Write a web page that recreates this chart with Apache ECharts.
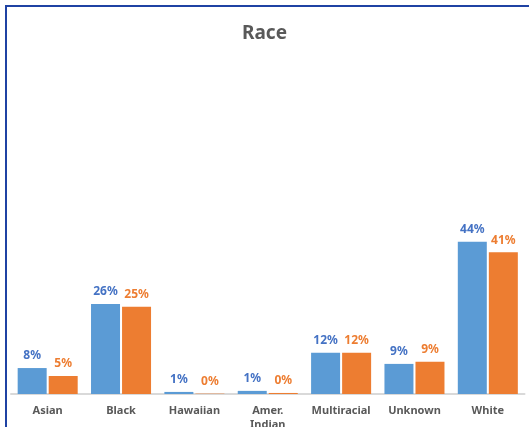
<!DOCTYPE html>
<html>
<head>
<meta charset="utf-8">
<script src="https://cdn.jsdelivr.net/npm/echarts@6/dist/echarts.min.js"></script>
<style>
  html, body { margin: 0; padding: 0; background: #fff; overflow: hidden; }
  #wrap { position: relative; width: 529px; height: 427px; overflow: hidden; }
  #chart { width: 529px; height: 427px; }
  #frame {
    position: absolute; left: 5px; top: 5px; width: 700px; height: 700px;
    border-left: 2.5px solid #1f42a3; border-top: 2.5px solid #1f42a3;
    pointer-events: none;
  }
</style>
</head>
<body>
<div id="wrap">
  <div id="chart"></div>
  <div id="frame"></div>
</div>
<script>
  // categories and the two series (percent)
  var categories = ['Asian', 'Black', 'Hawaiian', 'Amer.\nIndian', 'Multiracial', 'Unknown', 'White'];
  var seriesA = [7.5, 26, 0.6, 0.9, 11.9, 8.7, 44];
  var seriesB = [5.2, 25.2, 0.1, 0.3, 11.9, 9.3, 41];

  var font = '"Noto Sans", "DejaVu Sans", sans-serif';

  function pct(p) {
    return Math.round(p.value) + '%';
  }

  var chart = echarts.init(document.getElementById('chart'));
  chart.setOption({
    animation: false,
    title: {
      text: 'Race',
      left: 'center',
      top: 19,
      textStyle: { color: '#595959', fontSize: 19, fontWeight: 'bold', fontFamily: font }
    },
    grid: { left: 11, right: 4.5, top: 48, bottom: 33, containLabel: false, outerBoundsMode: 'none' },
    xAxis: {
      type: 'category',
      data: categories,
      axisTick: { show: false },
      axisLine: { lineStyle: { color: '#d9d9d9', width: 2 } },
      axisLabel: {
        color: '#595959',
        fontSize: 11,
        fontWeight: 'bold',
        fontFamily: font,
        margin: 10,
        lineHeight: 14,
        interval: 0
      }
    },
    yAxis: {
      type: 'value',
      min: 0,
      max: 100,
      show: false,
      splitLine: { show: false }
    },
    series: [{
      type: 'bar',
      data: seriesA,
      barWidth: 29,
      barGap: '7%',
      itemStyle: { color: '#5b9bd5' },
      label: {
        show: true,
        position: 'top',
        distance: 6,
        formatter: pct,
        color: '#4472c4',
        fontSize: 12,
        fontWeight: 'bold',
        fontFamily: font
      }
    }, {
      type: 'bar',
      data: seriesB,
      barWidth: 29,
      itemStyle: { color: '#ed7d31' },
      label: {
        show: true,
        position: 'top',
        distance: 6,
        formatter: pct,
        color: '#ed7d31',
        fontSize: 12,
        fontWeight: 'bold',
        fontFamily: font
      }
    }]
  });
</script>
</body>
</html>
